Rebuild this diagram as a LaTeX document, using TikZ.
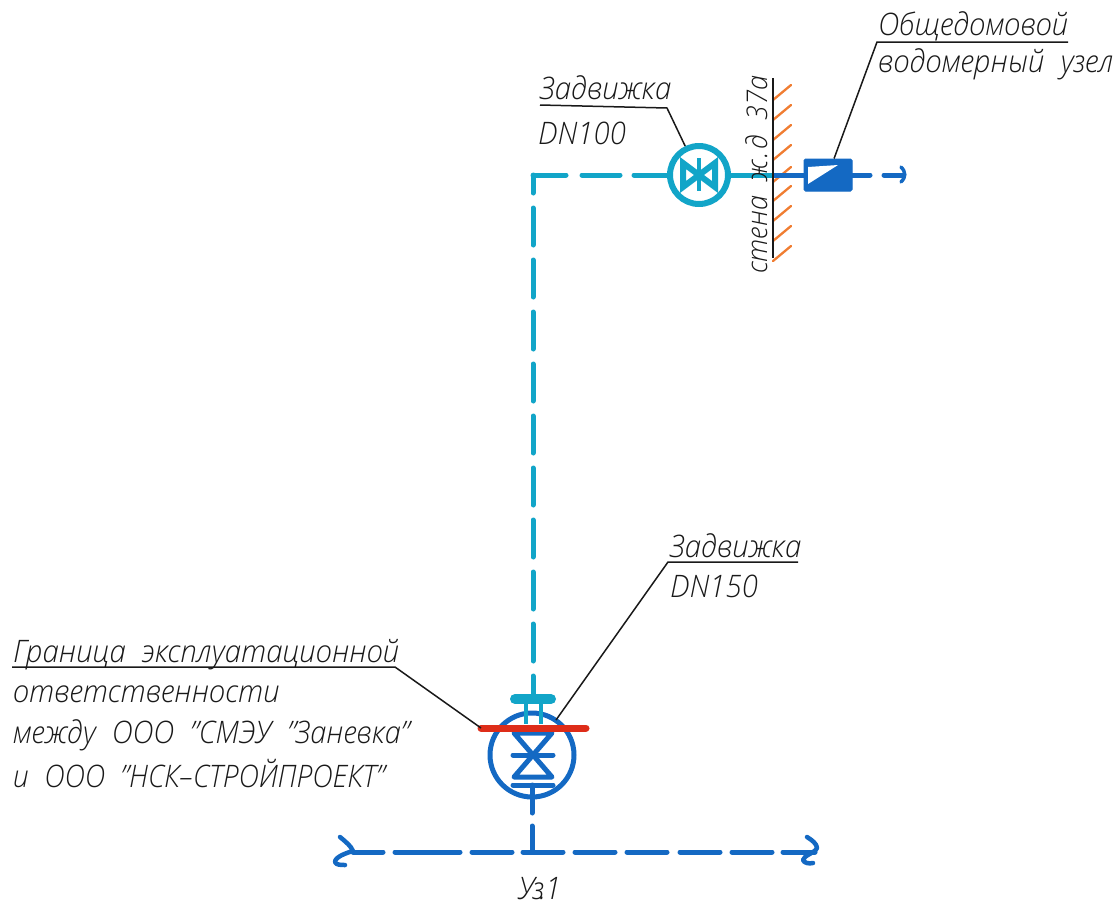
\documentclass[tikz,border=0pt]{standalone}
\usepackage{fontspec}
\setmainfont{Open Sans}[FakeStretch=0.95,WordSpace=2.1,ItalicFont={Open Sans Light Italic}]
\definecolor{cy}{RGB}{18,165,200}
\definecolor{bl}{RGB}{20,105,195}
\definecolor{rd}{RGB}{222,45,25}
\definecolor{og}{RGB}{240,125,50}
\definecolor{ink}{RGB}{25,25,25}
\tikzset{
 lab/.style={anchor=base west,inner sep=0pt,font=\fontsize{31}{31}\selectfont\itshape,text=ink},
 lead/.style={draw=ink,line width=1.5pt},
 cyp/.style={draw=cy,line width=5pt,line cap=round},
 blp/.style={draw=bl,line width=5pt,line cap=round},
 hatchl/.style={draw=og,line width=2.3pt,line cap=round},
}
\begin{document}
\begin{tikzpicture}[x=1pt,y=-1pt]
\useasboundingbox (0,0) rectangle (1120,906);
% coordinates
\coordinate (flange) at (533,699);
\coordinate (corner) at (533,175);
\coordinate (vu) at (699,175);
\coordinate (wallT) at (773,78);
\coordinate (wallB) at (773,258);
\coordinate (wallP) at (773,175);
\coordinate (endR) at (903,175);
\coordinate (vl) at (532,755);
% wall hatching
\foreach \y in {85,105,125,145,167,186,206,226,246}
  \draw[hatchl] (773,\y+15) -- (791,\y);
% pipe cyan
\draw[cyp,dash pattern=on 37pt off 15pt,dash phase=19pt] (corner) -- (flange);
\draw[cyp,dash pattern=on 33pt off 16pt on 38pt off 14pt on 40pt off 10pt] (corner) -- (vu);
% upper valve
\node[draw=cy,line width=6pt,circle,minimum size=58pt,inner sep=0pt,fill=white] (valveA) at (vu) {};
\draw[cy,line width=6pt,line join=miter] (683,163) -- (683,187) -- (699,175) -- cycle;
\draw[cy,line width=6pt,line join=miter] (715,163) -- (715,187) -- (699,175) -- cycle;
\draw[cy,line width=4.5pt] (699,158) -- (699,191);
\draw[cyp,line cap=butt] (valveA) -- (wallP);
% meter
\draw[blp,line cap=butt] (wallP) -- (804,175);
\node[draw=bl,fill=bl,line width=1pt,rounded corners=1.5pt,minimum width=48pt,minimum height=32pt,inner sep=0pt] (meter) at (828,175) {};
\fill[white] (808,167) -- (838,165) -- (808,184) -- cycle;
\draw[blp] (meter) -- (870,175);
\draw[blp] (884,175) -- (endR);
\draw[bl,line width=3.5pt,line cap=round] (901,167) .. controls (906,172) and (906,177) .. (901,182);
% wall
\draw[ink,line width=2.6pt] (wallT) -- (wallB);
% lower valve
\node[draw=bl,line width=5pt,circle,minimum size=84pt,inner sep=0pt] (valveB) at (vl) {};
\draw[bl,line width=5pt,line cap=round,line join=round] (514,733) -- (552,733) -- (514,777) -- (552,777) -- cycle;
\draw[blp] (513,755) -- (553,755);
\draw[blp] (513,785) -- (553,785);
\draw[blp] (532,785) -- (532,813);
% cyan flange
\draw[cy,line width=10pt,line cap=round] (515,699) -- (551,699);
\draw[cy,line width=4.5pt] (526,699) -- (526,724);
\draw[cy,line width=4.5pt] (541,699) -- (541,724);
% main line
\coordinate (tee) at (532,852);
\draw[blp] (532,826) -- (tee);
\foreach \a/\b in {353/383,395/460,472/512,523/563,575/615,627/667,680/720,732/772}
  \draw[blp] (\a,852) -- (\b,852);
\draw[bl,line width=4.5pt,line cap=round,line join=round] (340,837) .. controls (346,842) and (351,846) .. (353,851) .. controls (346,853) and (335,857) .. (335,862) .. controls (336,865) and (341,865) .. (345,865);
\draw[blp] (783,852) -- (815,852);
\draw[bl,line width=4.5pt,line cap=round,line join=round] (807,837) .. controls (812,840) and (817,844) .. (817,848) .. controls (815,853) and (804,855) .. (803,860) .. controls (804,863) and (809,864) .. (813,863);
% red bar
\draw[rd,line width=7pt,line cap=round] (481,728) coordinate (redL) -- (586,728);
% leaders
\draw[lead] (540,105) -- (667,108) -- (valveA);
\draw[lead] (1068,42) -- (877,42) -- (meter);
\draw[lead] (798,562) -- (668,562) -- (556,720);
\draw[lead] (12,667) -- (395,667) -- (redL);
% labels
\node[lab] (t1) at (540,99) {Задвижка};
\node[lab] (t2) at (538,144) {DN100};
\node[lab] (t3) at (878,35) {Общедомовой};
\node[lab] (t4) at (878,72) {водомерный узел};
\node[lab] (t5) at (670,557) {Задвижка};
\node[lab] (t6) at (670,597) {DN150};
\node[lab] (t7) at (13,662) {Граница эксплуатационной};
\node[lab] (t8) at (13,702) {ответственности};
\node[lab] (t9) at (13,743) {\scalebox{0.985}[1]{между ООО "СМЭУ "Заневка"}};
\node[lab] (t10) at (13,787) {\scalebox{0.96}[1]{и ООО "НСК--СТРОЙПРОЕКТ"}};
\node[lab] (t11) at (518,899) {У\kern-2pt з\kern-5pt.\kern-1pt 1};
\node[lab,rotate=90,font=\fontsize{28.5}{28.5}\selectfont\itshape] (t12) at (767,274) {стена ж\kern2pt.\kern2pt д 37а};
\end{tikzpicture}
\end{document}
